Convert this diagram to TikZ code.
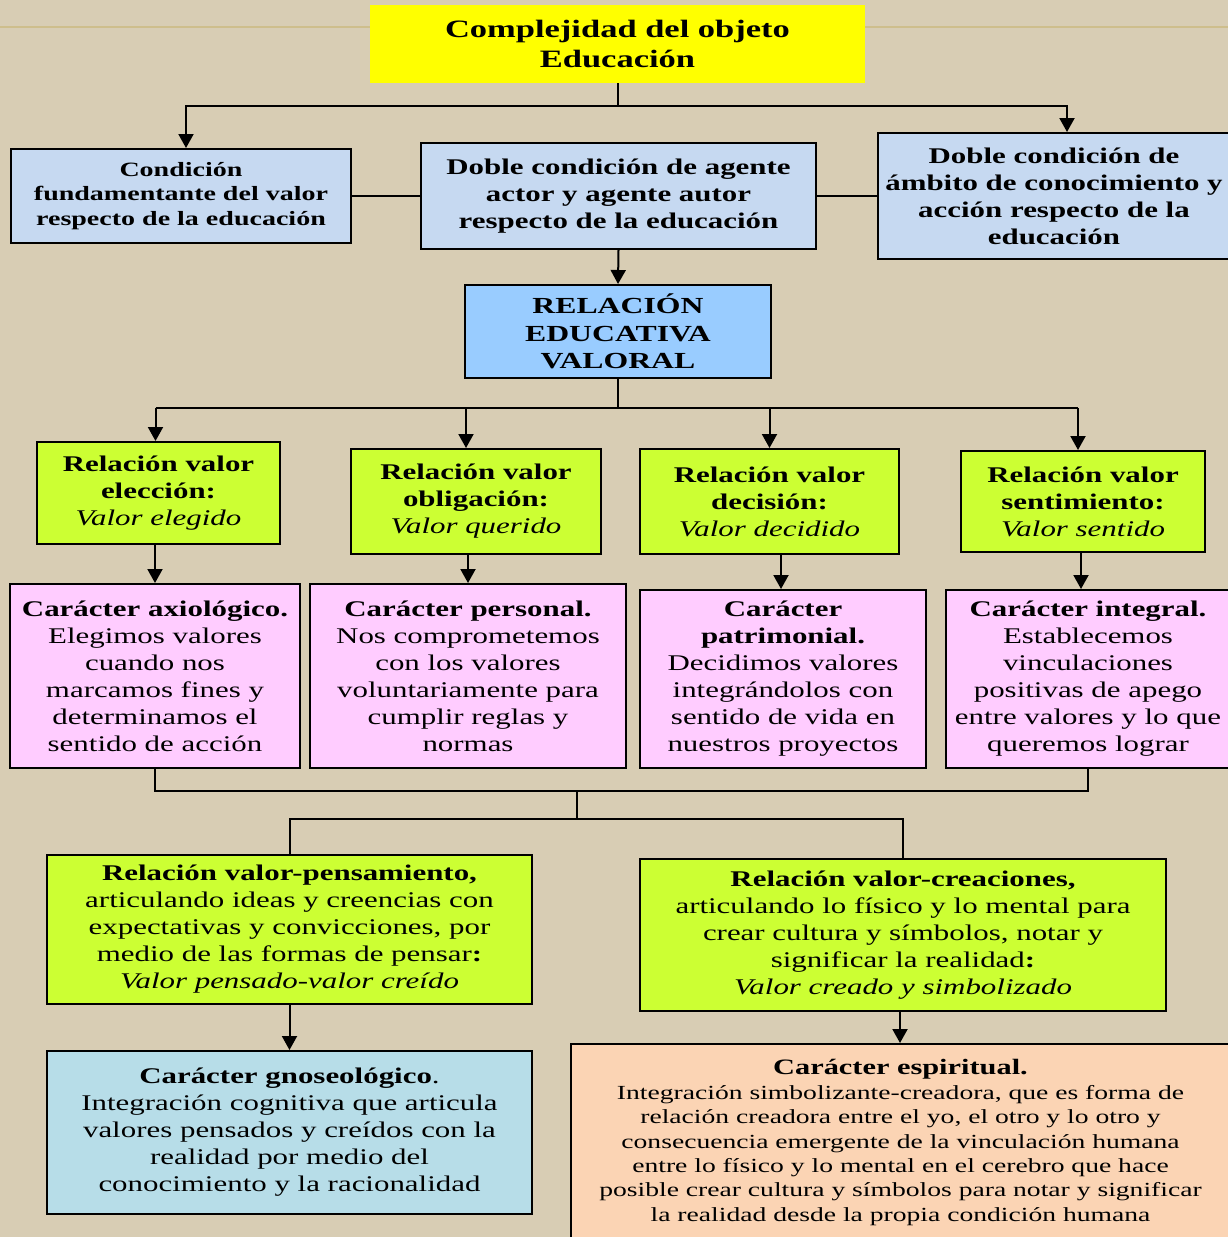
\documentclass[tikz,border=0pt]{standalone}
\usepackage{fontspec}
\setmainfont{Liberation Serif}[FakeStretch=1.38]
\usepackage{tikz}
\usetikzlibrary{arrows.meta}
\definecolor{fondo}{RGB}{216,205,180}
\definecolor{raya}{RGB}{206,190,140}
\definecolor{amarillo}{RGB}{255,255,0}
\definecolor{azulcond}{RGB}{198,217,241}
\definecolor{azulrel}{RGB}{153,204,255}
\definecolor{verde}{RGB}{204,255,51}
\definecolor{rosa}{RGB}{255,204,255}
\definecolor{azulgno}{RGB}{183,221,232}
\definecolor{durazno}{RGB}{251,212,180}

\begin{document}
\begin{tikzpicture}[x=1pt, y=-1pt,
		caja/.style={draw=black, line width=2pt, align=center, inner sep=0pt},
		conector/.style={line width=2pt},
		flecha/.style={line width=2pt, -{Triangle[length=14pt, width=15pt]}}]
		\fill[fondo] (0, 0) rectangle (1228, 1237);
		\useasboundingbox (0, 0) rectangle (1228, 1237);
		\draw[raya, line width=2pt] (0, 27) -- (1228, 27);

		\node[align=center, fill=amarillo, minimum width=495, minimum height=78, font=\fontsize{25}{30}\selectfont\bfseries] (objeto) at (617.5, 44) {Complejidad del objeto\\Educación};

		\node[caja, fill=azulcond, minimum width=340, minimum height=94, font=\fontsize{20.3}{24.5}\selectfont\bfseries] (fundamentante) at (181, 196) {Condición\\fundamentante del valor\\respecto de la educación};
		\node[caja, fill=azulcond, minimum width=395, minimum height=106, font=\fontsize{22.4}{27}\selectfont\bfseries] (agente) at (618.5, 196) {Doble condición de agente\\actor y agente autor\\respecto de  la educación};
		\node[caja, fill=azulcond, minimum width=352, minimum height=126, font=\fontsize{22.4}{27}\selectfont\bfseries] (ambito) at (1054, 196) {Doble condición de\\ámbito de conocimiento y\\acción respecto de la\\educación};

		\node[caja, fill=azulrel, minimum width=306, minimum height=93, font=\fontsize{23}{27.5}\selectfont\bfseries] (relacion) at (618, 331.5) {RELACIÓN\\EDUCATIVA\\VALORAL};

		\draw[conector] (objeto.south) -- ++(0, 23) coordinate (bus1);
		\draw[flecha] (bus1) -| ([xshift=5]fundamentante.north);
		\draw[flecha] (bus1) -| ([xshift=13]ambito.north);
		\draw[conector] (fundamentante) -- (agente);
		\draw[conector] (agente) -- (ambito);
		\draw[flecha] (agente.south) -- (relacion.north);

		\node[caja, fill=verde, minimum width=243, minimum height=102, font=\fontsize{22.4}{27}\selectfont] (eleccion) at (158.5, 493) {\textbf{Relación valor}\\\textbf{elección:}\\\textit{Valor elegido}};
		\node[caja, fill=verde, minimum width=250, minimum height=105, font=\fontsize{22.4}{27}\selectfont] (obligacion) at (476, 501.5) {\textbf{Relación valor}\\\textbf{obligación:}\\\textit{Valor  querido}};
		\node[caja, fill=verde, minimum width=259, minimum height=105, font=\fontsize{22.4}{27}\selectfont] (decision) at (769.5, 501.5) {\textbf{Relación valor}\\\textbf{decisión:}\\\textit{Valor decidido}};
		\node[caja, fill=verde, minimum width=244, minimum height=101, font=\fontsize{22.4}{27}\selectfont] (sentimiento) at (1083, 501.5) {\textbf{Relación valor}\\\textbf{sentimiento:}\\\textit{Valor sentido}};

		\draw[conector] (relacion.south) -- ++(0, 29) coordinate (bus2);
		\draw[conector] ([xshift=-3]eleccion.north |- bus2) -- ([xshift=-5]sentimiento.north |- bus2);
		\draw[flecha] ([xshift=-3]eleccion.north |- bus2) -- ([xshift=-3]eleccion.north);
		\draw[flecha] ([xshift=-10]obligacion.north |- bus2) -- ([xshift=-10]obligacion.north);
		\draw[flecha] (decision.north |- bus2) -- (decision.north);
		\draw[flecha] ([xshift=-5]sentimiento.north |- bus2) -- ([xshift=-5]sentimiento.north);

		\node[caja, fill=rosa, minimum width=290, minimum height=184, font=\fontsize{22.4}{27}\selectfont] (axiologico) at (155, 676) {\textbf{Carácter axiológico.}\\Elegimos valores\\cuando nos\\marcamos fines y\\determinamos el\\sentido de acción};
		\node[caja, fill=rosa, minimum width=316, minimum height=184, font=\fontsize{22.4}{27}\selectfont] (personal) at (468, 676) {\textbf{Carácter personal.}\\Nos comprometemos\\con los valores\\voluntariamente para\\cumplir reglas y\\normas};
		\node[caja, fill=rosa, minimum width=286, minimum height=178, font=\fontsize{22.4}{27}\selectfont] (patrimonial) at (783, 679) {\textbf{Carácter}\\\textbf{patrimonial.}\\Decidimos valores\\integrándolos con\\sentido de vida en\\nuestros proyectos};
		\node[caja, fill=rosa, minimum width=284, minimum height=178, font=\fontsize{22.4}{27}\selectfont] (integral) at (1088, 679) {\textbf{Carácter integral.}\\Establecemos\\vinculaciones\\positivas de apego\\entre valores y lo que\\queremos lograr};

		\draw[flecha] (eleccion.south -| axiologico) -- (axiologico.north);
		\draw[flecha] (obligacion.south -| personal) -- (personal.north);
		\draw[flecha] ([xshift=-2]patrimonial.north |- decision.south) -- ([xshift=-2]patrimonial.north);
		\draw[flecha] ([xshift=-7]integral.north |- sentimiento.south) -- ([xshift=-7]integral.north);

		\draw[conector] (axiologico.south) -- ++(0, 22) -| (integral.south);
		\coordinate (union1) at (577, 790);
		\coordinate (union2) at (577, 819);
		\draw[conector] (union1) -- (union2);

		\node[caja, fill=verde, minimum width=485, minimum height=149, font=\fontsize{22.4}{27}\selectfont] (pensamiento) at (289.5, 929.5) {\textbf{Relación valor-pensamiento,}\\articulando ideas y creencias con\\expectativas y convicciones, por\\medio de las formas de pensar\textbf{:}\\\textit{Valor pensado-valor creído}};
		\node[caja, fill=verde, minimum width=526, minimum height=152, font=\fontsize{22.4}{27}\selectfont] (creaciones) at (903, 935) {\textbf{Relación valor-creaciones,}\\articulando lo físico y lo mental para\\crear cultura y símbolos, notar y\\significar la realidad\textbf{:}\\\textit{Valor creado y simbolizado}};

		\draw[conector] (pensamiento.north) |- (union2) -| (creaciones.north);

		\node[caja, fill=azulgno, minimum width=485, minimum height=163, font=\fontsize{22.4}{27}\selectfont] (gnoseologico) at (289.5, 1132.5) {\textbf{Carácter gnoseológico}.\\Integración cognitiva que articula\\valores pensados y creídos con la\\realidad  por medio del\\conocimiento y la racionalidad};
		\node[caja, fill=durazno, minimum width=659, minimum height=197, font=\fontsize{20}{24.4}\selectfont] (espiritual) at (900.5, 1142.5) {{\fontsize{22}{24.4}\selectfont\textbf{Carácter espiritual.}}\\Integración simbolizante-creadora, que es  forma de\\relación creadora entre el yo, el otro y lo otro y\\consecuencia emergente de la vinculación humana\\entre lo físico y lo mental en el cerebro que hace\\posible crear cultura y símbolos para notar y significar\\la realidad desde la propia condición humana};

		\draw[flecha] (pensamiento.south) -- (gnoseologico.north);
		\draw[flecha] ([xshift=-3]creaciones.south) -- ([xshift=-3]creaciones.south |- espiritual.north);
	\end{tikzpicture}
\end{document}
